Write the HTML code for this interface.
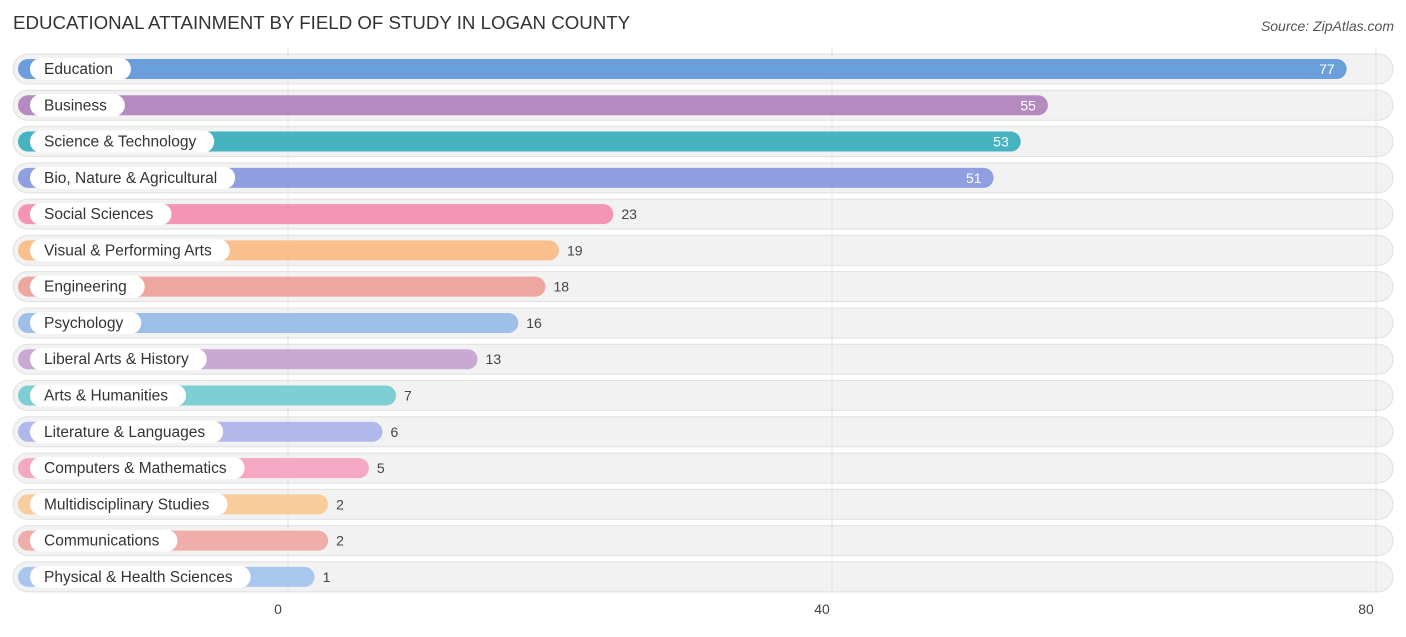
<!DOCTYPE html>
<html><head><meta charset="utf-8"><style>
body{margin:0;background:#fff;font-family:"Liberation Sans",sans-serif;}
svg text{font-family:"Liberation Sans",sans-serif;}
</style></head><body>
<svg id="chart" width="1406" height="632" xmlns="http://www.w3.org/2000/svg">
<text x="13" y="29" font-size="18.7" fill="#333">EDUCATIONAL ATTAINMENT BY FIELD OF STUDY IN LOGAN COUNTY</text>
<text x="1394" y="31" font-size="14" fill="#555" text-anchor="end" font-style="italic">Source: ZipAtlas.com</text>
<g id="rows"></g><g id="grid"></g><g id="bars"></g><g id="ticks"></g>
</svg>
<script>
const categories=["Education","Business","Science & Technology","Bio, Nature & Agricultural","Social Sciences","Visual & Performing Arts","Engineering","Psychology","Liberal Arts & History","Arts & Humanities","Literature & Languages","Computers & Mathematics","Multidisciplinary Studies","Communications","Physical & Health Sciences"];
const values=[77,55,53,51,23,19,18,16,13,7,6,5,2,2,1];
const colors=["#6a9fdc","#b48ac0","#45b3c0","#8f9fe0","#f595b5","#f9c08e","#eea6a0","#9dbfe8","#c9a8d2","#7ecfd3","#b0b8ec","#f5a8c4","#f9cc9c","#f0aeaa","#a8c6ee"];
const tickValues=[0,40,80];
const NS="http://www.w3.org/2000/svg";
const x=v=>301+v*13.58;
const gx=v=>288+v*13.6;
const y=i=>69+i*36.28;
function mk(tag,attrs,parent){const e=document.createElementNS(NS,tag);for(const k in attrs)e.setAttribute(k,attrs[k]);parent.appendChild(e);return e;}
const grid=document.getElementById('grid'),rows=document.getElementById('rows'),bars=document.getElementById('bars'),ticks=document.getElementById('ticks');
categories.forEach((c,i)=>{
 const bg=mk('rect',{x:13,y:y(i)-15,width:1380,height:30,rx:15,fill:'#f2f2f2',stroke:'#e0e0e0','stroke-width':1},rows);
 
 
});
tickValues.forEach(t=>{
 const l=mk('line',{x1:gx(t),x2:gx(t),y1:48,y2:592,stroke:'#e2e2e2','stroke-width':1},grid);
 
 
 const tx=mk('text',{x:gx(t)-10,y:614,'font-size':14,fill:'#444','text-anchor':'middle'},ticks);
 tx.textContent=t;
 
 
});
categories.forEach((c,i)=>{
 const cy=y(i);
 const b=mk('rect',{x:18,y:cy-10,width:x(values[i])-18,height:20,rx:10,fill:colors[i]},bars);
 
 
 const p=mk('rect',{x:30,y:cy-11,width:100,height:22,rx:11,fill:'#fff'},bars);
 
 
 const t=mk('text',{x:44,y:cy+5,'font-size':15.5,fill:'#333'},bars);
 t.textContent=c;
 
 
 p.setAttribute('width',t.getComputedTextLength()+32);
 const inside=values[i]>40;
 const v=mk('text',{x:inside?x(values[i])-12:x(values[i])+8,y:cy+5,'font-size':14,fill:inside?'#fff':'#444','text-anchor':inside?'end':'start'},bars);
 v.textContent=values[i];
 
 
});
</script>
</body></html>
